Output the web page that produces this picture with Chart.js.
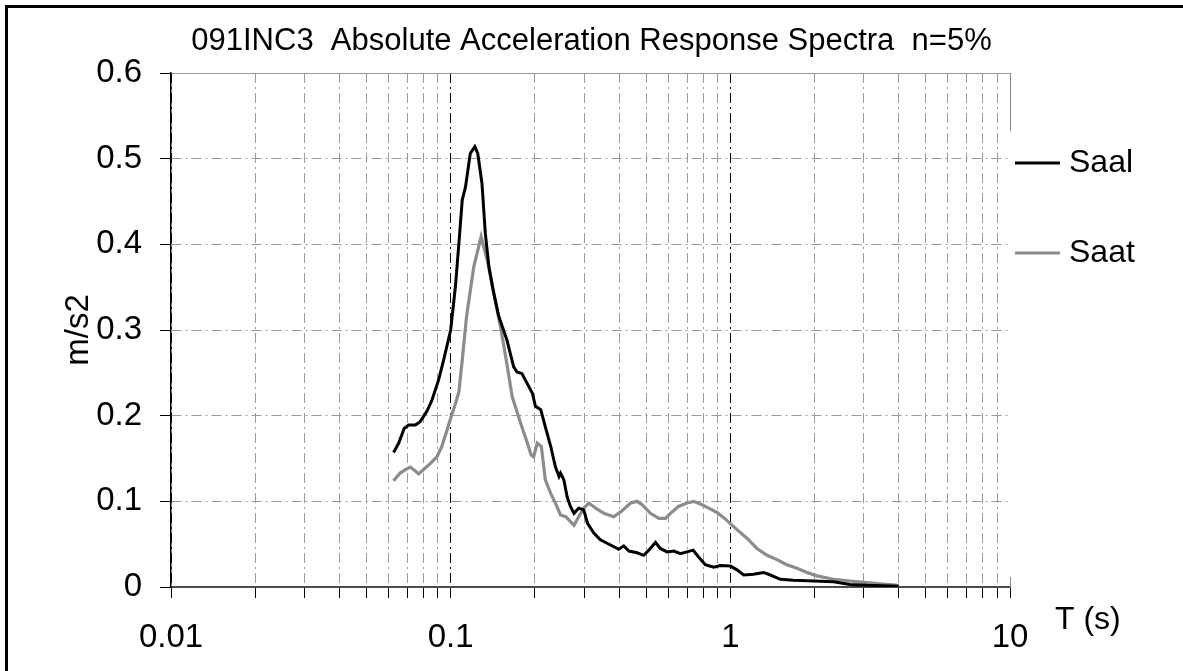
<!DOCTYPE html>
<html>
<head>
<meta charset="utf-8">
<script src="https://cdn.jsdelivr.net/npm/chart.js@4.4.1/dist/chart.umd.min.js"></script>
<style>
  body { margin: 0; background: #fff; }
  #wrap { position: relative; width: 1183px; height: 671px; overflow: hidden; }
  #frame { position: absolute; left: 5px; top: 5px; right: 0; bottom: 0;
           border-left: 3px solid #000; border-top: 3px solid #000; pointer-events: none; }
  canvas { position: absolute; left: 0; top: 0; }
</style>
</head>
<body>
<div id="wrap">
  <canvas id="spectra" width="1183" height="671"></canvas>
  <div id="frame"></div>
</div>
<script>
Chart.defaults.font.family = '"Liberation Sans", Arial, sans-serif'
Chart.defaults.color = '#000'

const title = '091INC3  Absolute Acceleration Response Spectra  n=5%'
const seriesNames = ['Saal', 'Saat']
const seriesColors = ['#000000', '#8c8c8c']

// period (s) and value (m/s2)
const periodSaal = [0.0625, 0.0652, 0.0682, 0.0708, 0.0748, 0.0778, 0.0822, 0.0857, 0.0906, 0.0944,
  0.1, 0.104, 0.107, 0.110, 0.113, 0.1175, 0.122, 0.125, 0.1294, 0.133,
  0.137, 0.1426, 0.1486, 0.159, 0.168, 0.1727, 0.180, 0.186, 0.196, 0.201,
  0.210, 0.218, 0.228, 0.237, 0.244, 0.247, 0.254, 0.261, 0.268, 0.276,
  0.287, 0.299, 0.309, 0.325, 0.343, 0.373, 0.399, 0.416, 0.434, 0.464,
  0.490, 0.511, 0.540, 0.562, 0.594, 0.628, 0.663, 0.700, 0.736, 0.770,
  0.814, 0.872, 0.921, 1.0, 1.056, 1.116, 1.211, 1.315, 1.39, 1.51,
  1.68, 1.99, 2.34, 2.68, 3.08, 4.0]
const saal = [0.157, 0.168, 0.185, 0.189, 0.189, 0.193, 0.205, 0.218, 0.242, 0.265,
  0.300, 0.351, 0.401, 0.452, 0.467, 0.506, 0.514, 0.506, 0.471, 0.413,
  0.374, 0.343, 0.316, 0.288, 0.257, 0.251, 0.249, 0.240, 0.226, 0.211,
  0.207, 0.187, 0.164, 0.140, 0.129, 0.133, 0.125, 0.105, 0.094, 0.086,
  0.092, 0.090, 0.074, 0.063, 0.055, 0.049, 0.044, 0.048, 0.042, 0.040,
  0.037, 0.043, 0.052, 0.045, 0.041, 0.042, 0.039, 0.041, 0.043, 0.035,
  0.026, 0.023, 0.025, 0.0245, 0.020, 0.014, 0.015, 0.017, 0.014, 0.009,
  0.008, 0.007, 0.006, 0.003, 0.002, 0.001]

const periodSaat = [0.0625, 0.066, 0.0689, 0.0717, 0.0738, 0.0768, 0.080, 0.0845, 0.0893, 0.093,
  0.097, 0.1, 0.104, 0.107, 0.110, 0.114, 0.121, 0.1285, 0.135, 0.1426,
  0.1507, 0.158, 0.166, 0.178, 0.188, 0.194, 0.198, 0.204, 0.211, 0.218,
  0.228, 0.237, 0.247, 0.258, 0.276, 0.287, 0.299, 0.312, 0.33, 0.353,
  0.383, 0.41, 0.44, 0.464, 0.484, 0.518, 0.555, 0.586, 0.611, 0.652,
  0.70, 0.74, 0.792, 0.837, 0.896, 0.947, 1.0, 1.056, 1.147, 1.245,
  1.352, 1.468, 1.593, 1.73, 1.88, 2.04, 2.34, 2.68, 3.08, 3.5, 4.0]
const saat = [0.124, 0.133, 0.137, 0.140, 0.137, 0.132, 0.137, 0.144, 0.152, 0.164,
  0.183, 0.197, 0.214, 0.228, 0.265, 0.316, 0.374, 0.409, 0.382, 0.343,
  0.304, 0.265, 0.222, 0.191, 0.168, 0.154, 0.152, 0.168, 0.164, 0.125,
  0.109, 0.098, 0.084, 0.082, 0.072, 0.082, 0.092, 0.098, 0.092, 0.086,
  0.082, 0.089, 0.098, 0.100, 0.096, 0.086, 0.080, 0.080, 0.086, 0.094,
  0.098, 0.100, 0.096, 0.092, 0.087, 0.081, 0.074, 0.067, 0.057, 0.045,
  0.037, 0.032, 0.026, 0.022, 0.017, 0.013, 0.009, 0.007, 0.005, 0.0035, 0.002]

const xDecades = [0.01, 0.1, 1]
const xTickLabels = ['0.01', '0.1', '1', '10']
const yTicks = [0, 0.1, 0.2, 0.3, 0.4, 0.5, 0.6]

const xTicks = []
xDecades.forEach(d => { for (let k = 1; k < 10; k++) xTicks.push(+(d * k).toPrecision(3)) })
xTicks.push(10)

const isDecade = v => Math.abs(Math.log10(v) - Math.round(Math.log10(v))) < 1e-6
const dashDot = [10, 4, 2, 4]

const chartdata = {
  datasets: [
    { label: seriesNames[0], data: periodSaal.map((t, i) => ({x: t, y: saal[i]})),
      borderColor: seriesColors[0], backgroundColor: seriesColors[0], borderWidth: 3 },
    { label: seriesNames[1], data: periodSaat.map((t, i) => ({x: t, y: saat[i]})),
      borderColor: seriesColors[1], backgroundColor: seriesColors[1], borderWidth: 3.2 }
  ]
}

// legend, the cut right edge of the plot and the "T (s)" label
const extras = {
  id: 'extras',
  afterDraw(chart) {
    const {ctx, chartArea: a} = chart
    ctx.save()
    ctx.strokeStyle = '#8a8a8a'
    ctx.lineWidth = 1
    ctx.beginPath()
    ctx.moveTo(a.right + 0.5, a.top); ctx.lineTo(a.right + 0.5, a.top + 58)
    ctx.moveTo(a.right + 0.5, a.bottom - 10); ctx.lineTo(a.right + 0.5, a.bottom)
    ctx.stroke()
    ctx.font = '32px "Liberation Sans", Arial, sans-serif'
    ctx.textBaseline = 'middle'
    ctx.fillStyle = '#000'
    chart.data.datasets.forEach((ds, i) => {
      const y = a.top + 90 + i * 90
      ctx.strokeStyle = ds.borderColor
      ctx.lineWidth = ds.borderWidth
      ctx.beginPath(); ctx.moveTo(a.right + 5, y); ctx.lineTo(a.right + 50, y); ctx.stroke()
      ctx.fillText(ds.label, a.right + 59, y)
    })
    ctx.fillText('T (s)', a.right + 45, a.bottom + 33)
    ctx.restore()
  }
}

const options = {
  responsive: false,
  animation: false,
  layout: { padding: 0 },
  elements: { point: { radius: 0 }, line: { tension: 0 } },
  plugins: {
    legend: { display: false },
    tooltip: { enabled: false },
    title: {
      display: true,
      text: title,
      font: { size: 31, weight: 'normal' },
      padding: { top: 22.4, bottom: 13.4 }
    }
  },
  scales: {
    x: {
      type: 'logarithmic',
      min: 0.01,
      max: 10,
      afterBuildTicks: s => { s.ticks = xTicks.map(v => ({value: v, major: isDecade(v)})) },
      afterFit: s => { s.height = 84 },
      ticks: {
        autoSkip: false,
        maxRotation: 0,
        padding: 20,
        font: { size: 33 },
        callback: v => isDecade(v) ? xTickLabels[Math.round(Math.log10(v)) + 2] : ''
      },
      grid: {
        color: c => c.tick && Math.abs(c.tick.value - 10) < 1e-6 ? 'rgba(0,0,0,0)' : (c.tick && isDecade(c.tick.value) ? '#000' : '#9a9a9a'),
        lineWidth: 1,
        tickLength: 11,
        tickColor: '#000',
        tickBorderDash: []
      },
      border: { display: true, color: '#4d4d4d', width: 2, dash: c => c.tick ? dashDot : [] }
    },
    y: {
      min: 0,
      max: 0.6,
      afterBuildTicks: s => { s.ticks = yTicks.map(v => ({value: v})) },
      afterFit: s => { s.width = 171 },
      ticks: {
        padding: 18,
        font: { size: 33 },
        callback: v => String(+v.toFixed(1))
      },
      title: {
        display: true,
        text: 'm/s2',
        font: { size: 33 },
        padding: { top: 59, bottom: 0 }
      },
      grid: {
        color: '#9a9a9a',
        lineWidth: 1,
        tickLength: 11,
        tickColor: '#000',
        tickBorderDash: []
      },
      border: { display: true, color: '#000', width: 1.5, dash: c => (c.tick && c.tick.value < 0.59) ? dashDot : [] }
    },
    // empty strip on the right that holds the legend, so the title stays centred on the page
    legendSpace: {
      position: 'right',
      display: true,
      afterFit: s => { s.width = 173 },
      ticks: { display: false },
      grid: { display: false, drawTicks: false },
      border: { display: false }
    }
  }
}

const ctxSPECTRA = document.getElementById('spectra')
const spectraChart = new Chart(ctxSPECTRA, {
  type: 'line',
  data: chartdata,
  options: options,
  plugins: [extras]
})
</script>
</body>
</html>
